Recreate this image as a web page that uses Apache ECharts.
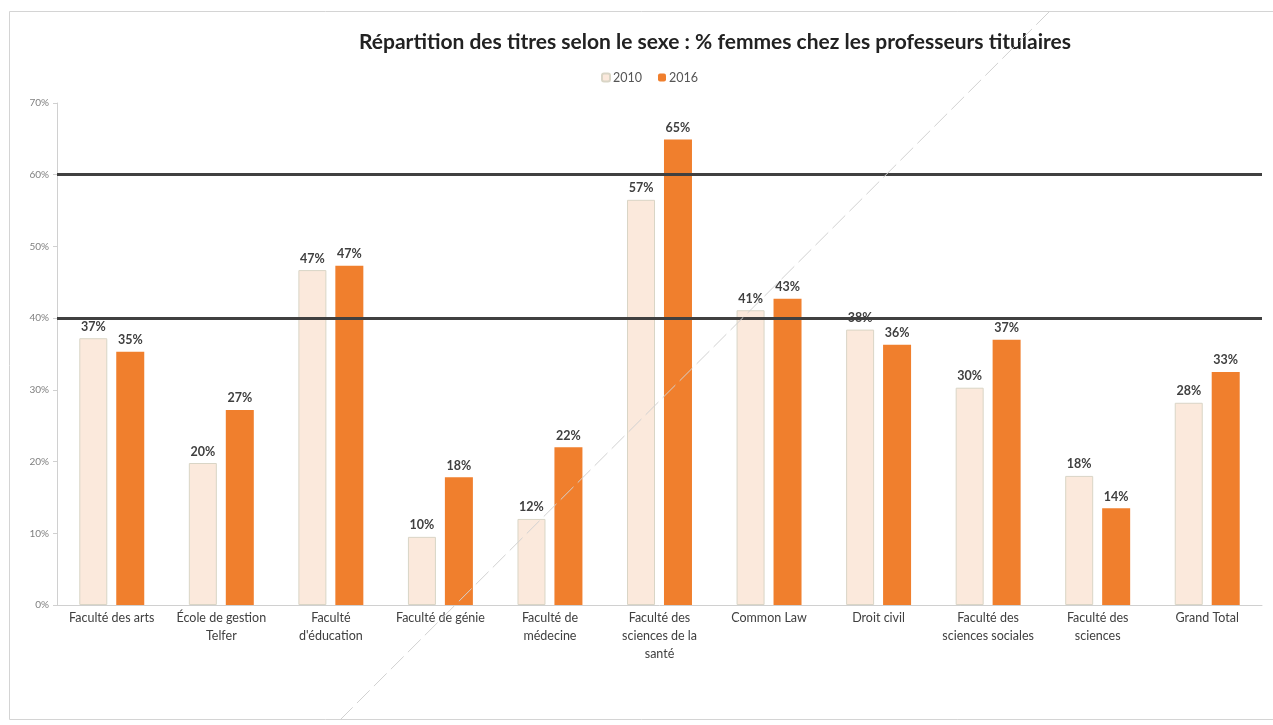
<!DOCTYPE html>
<html>
<head>
<meta charset="utf-8">
<script src="https://cdn.jsdelivr.net/npm/echarts@6/dist/echarts.min.js"></script>
<style>
html,body{margin:0;padding:0;background:#fff;}
#chart{width:1273px;height:725px;}
</style>
</head>
<body>
<div id="chart"></div>
<script>
const categories = [
  "Faculté des arts",
  "École de gestion\nTelfer",
  "Faculté\nd'éducation",
  "Faculté de génie",
  "Faculté de\nmédecine",
  "Faculté des\nsciences de la\nsanté",
  "Common Law",
  "Droit civil",
  "Faculté des\nsciences sociales",
  "Faculté des\nsciences",
  "Grand Total"
];
const values2010 = [37.2, 19.8, 46.7, 9.5, 12.0, 56.5, 41.1, 38.4, 30.3, 18.0, 28.2];
const values2016 = [35.3, 27.2, 47.3, 17.8, 22.0, 64.9, 42.7, 36.3, 37.0, 13.5, 32.5];
const yTicks = [0, 10, 20, 30, 40, 50, 60, 70];
const refLines = [40, 60];

const FONT = 'Lato, "Open Sans", sans-serif';
const chart = echarts.init(document.getElementById('chart'), null, {renderer: 'canvas'});

const labelCfg = {
  show: true,
  position: 'top',
  distance: 5,
  fontFamily: FONT,
  fontWeight: 'bold',
  fontSize: 12.5,
  color: '#404040',
  formatter: p => Math.round(p.value) + '%'
};

chart.setOption({
  backgroundColor: '#fff',
  animation: false,
  title: {
    text: 'Répartition des titres selon le sexe : % femmes chez les professeurs titulaires',
    left: 710,
    textAlign: 'center',
    top: 27,
    textStyle: {fontFamily: FONT, fontWeight: 'bold', fontSize: 21, color: '#222'}
  },
  legend: {
    data: ['2010', '2016'],
    left: 596,
    top: 66,
    itemWidth: 8,
    itemHeight: 8,
    itemGap: 16,
    textStyle: {fontFamily: FONT, fontSize: 12.5, color: '#555', padding: [0, 0, 0, -2]}
  },
  graphic: [
    {type: 'rect', shape: {x: 9.5, y: 11.5, width: 1275, height: 708},
     style: {fill: 'none', stroke: '#d4d4d4', lineWidth: 1}, silent: true, z: -1},
    {type: 'line', shape: {x1: 1049, y1: 12, x2: 340, y2: 720},
     style: {stroke: '#d2d2d2', lineWidth: 1, lineDash: [18, 6]}, silent: true, z: 100}
  ],
  grid: {left: 57, right: 11, top: 103, bottom: 120, containLabel: false},
  xAxis: {
    type: 'category',
    data: categories,
    axisLine: {lineStyle: {color: '#d0d0d0', width: 1}},
    axisTick: {show: false},
    axisLabel: {
      interval: 0,
      fontFamily: FONT,
      fontSize: 12.5,
      color: '#404040',
      lineHeight: 18,
      margin: 4
    }
  },
  yAxis: {
    type: 'value',
    min: yTicks[0],
    max: yTicks[yTicks.length - 1],
    interval: 10,
    axisLine: {show: true, lineStyle: {color: '#d0d0d0'}},
    axisTick: {show: true, length: 4, lineStyle: {color: '#d0d0d0'}},
    splitLine: {show: false},
    axisLabel: {fontFamily: FONT, fontSize: 10, color: '#808080', formatter: '{value}%', margin: 8}
  },
  series: [
    {
      name: '2010',
      type: 'bar',
      data: values2010,
      barWidth: 28,
      barGap: '32%',
      itemStyle: {color: '#FBE9DC', borderColor: '#d9d5c6', borderWidth: 1},
      label: labelCfg
    },
    {
      name: '2016',
      type: 'bar',
      data: values2016,
      barWidth: 28,
      itemStyle: {color: '#F07F2D'},
      label: labelCfg,
      markLine: {
        silent: true,
        symbol: 'none',
        z: 10,
        label: {show: false},
        lineStyle: {color: '#404040', width: 3, type: 'solid'},
        data: refLines.map(v => ({yAxis: v}))
      }
    }
  ]
});
</script>
</body>
</html>
